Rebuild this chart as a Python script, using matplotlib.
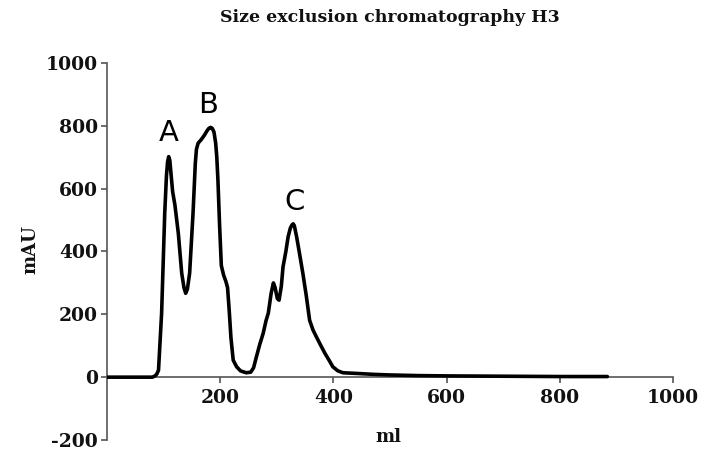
import matplotlib
matplotlib.use("Agg")
import matplotlib.pyplot as plt

plt.rcParams['axes.unicode_minus'] = False

title = "Size exclusion chromatography H3"
x_label = "ml"
y_label = "mAU"

volume_ml = [0, 80, 85, 88, 91, 96.5, 102, 105, 107, 109, 111, 113, 116, 120, 126, 132, 136, 139,
             142, 146, 152, 156, 158, 161, 166, 172, 177, 180, 183, 186, 189, 192, 194, 196, 199, 202,
             206, 210, 213, 216, 219, 223, 229, 236, 246, 254, 259, 264, 270, 276, 281,
             285, 290, 294, 297, 301, 304, 308, 311, 316, 320, 324, 327, 329, 331, 335, 340,
             346, 352, 358, 364, 370, 378, 385, 392, 399, 408, 417, 440, 470, 500, 550,
             600, 700, 800, 884]
absorbance_mAU = [0, 0, 4, 10, 22, 204, 522, 640, 685, 702, 690, 649, 590, 548, 458, 331, 285, 267,
                  280, 331, 522, 680, 725, 745, 755, 770, 785, 792, 795, 792, 780, 745, 700, 627, 480, 355,
                  325, 305, 285, 210, 125, 54, 33, 20, 14, 16, 30, 65, 105, 140, 180,
                  204, 267, 300, 285, 250, 245, 290, 351, 400, 447, 475, 485, 488, 482, 447, 395,
                  331, 260, 181, 150, 128, 100, 76, 55, 33, 20, 14, 12, 9, 7, 5,
                  4, 3, 2, 2]

peak_labels = ["A", "B", "C"]
peak_label_x = [109, 179, 331]
peak_label_y = [776, 866, 556]

x_ticks = [200, 400, 600, 800, 1000]
y_ticks = [-200, 0, 200, 400, 600, 800, 1000]

W, H = 704, 454
fig = plt.figure(figsize=(W / 100, H / 100), dpi=100)
ax = fig.add_axes([107 / W, (H - 440) / H, (673 - 107) / W, (440 - 63) / H])

ax.plot(volume_ml, absorbance_mAU, color="black", lw=2.6, solid_joinstyle="round",
        solid_capstyle="round", zorder=3)

ax.set_xlim(0, 1000)
ax.set_ylim(-200, 1000)
ax.set_xticks(x_ticks)
ax.set_yticks(y_ticks)

spine_color = "#555555"
ax.spines['top'].set_visible(False)
ax.spines['right'].set_visible(False)
ax.spines['bottom'].set_position(('data', 0))
for s in ('left', 'bottom'):
    ax.spines[s].set_color(spine_color)
    ax.spines[s].set_linewidth(1.2)

ax.tick_params(axis='both', direction='out', color=spine_color, width=1.2, length=4.5,
               labelcolor="#111111")
ax.tick_params(axis='y', pad=2)
ax.tick_params(axis='x', pad=4)
for lbl in ax.get_xticklabels() + ax.get_yticklabels():
    lbl.set_fontfamily("DejaVu Serif")
    lbl.set_fontweight("bold")
    lbl.set_fontsize(13.5)

for lab, lx, ly in zip(peak_labels, peak_label_x, peak_label_y):
    ax.text(lx, ly, lab, ha="center", va="center", fontsize=21,
            fontfamily="DejaVu Sans", color="black")

fig.text(390 / W, 1 - 18 / H, title, ha="center", va="center", fontsize=12.5,
         fontfamily="DejaVu Serif", fontweight="bold", color="#111111")
fig.text(30 / W, 1 - 250 / H, y_label, rotation=90, ha="center", va="center", fontsize=13,
         fontfamily="DejaVu Serif", fontweight="bold", color="#111111")
fig.text(388 / W, 1 - 437 / H, x_label, ha="center", va="center", fontsize=13,
         fontfamily="DejaVu Serif", fontweight="bold", color="#111111")

fig.savefig("out.png", dpi=100)
